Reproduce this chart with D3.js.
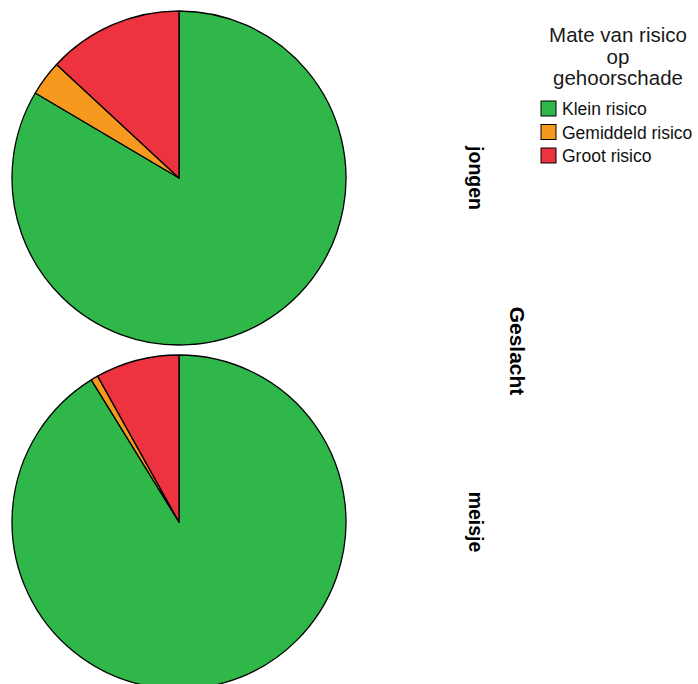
<!DOCTYPE html>
<html>
<head>
<meta charset="utf-8">
<script src="https://cdn.jsdelivr.net/npm/d3@7"></script>
<style>
  body { margin: 0; background: #fff; }
  text { font-family: "Liberation Sans", Arial, sans-serif; }
</style>
</head>
<body>
<svg id="canvas"></svg>
<script>
let svg = d3.select("#canvas");

svg.attr('width', 698)
    .attr('height', 684)

let categories = ['Klein risico', 'Gemiddeld risico', 'Groot risico'];
let colors = ['#2fb74a', '#f7981f', '#ee3340'];
let groups = ['jongen', 'meisje'];
// percentages per group
let jongen = [83.5, 3.4, 13.1];
let meisje = [91.2, 0.7, 8.1];
let series = [jongen, meisje];

let radius = 167;
let centerX = 179;
let centers = [178, 522];

let pie = d3.pie().sort(null).value(d => d);
let arc = d3.arc().innerRadius(0).outerRadius(radius);

series.forEach((values, g) => {
  let pieG = svg.append('g')
    .attr('transform', `translate(${centerX},${centers[g]})`);

  pieG.selectAll('path')
    .data(pie(values))
    .join('path')
    .attr('d', arc)
    .attr('fill', (d, i) => colors[i])
    .attr('stroke', 'black')
    .attr('stroke-width', 1.3)
    .attr('stroke-linejoin', 'round');

  svg.append('text')
    .attr('transform', `translate(469,${centers[g]}) rotate(90)`)
    .attr('text-anchor', 'middle')
    .attr('font-size', 19.5)
    .attr('font-weight', 'bold')
    .text(groups[g]);
});

svg.append('text')
  .attr('transform', 'translate(510,351) rotate(90)')
  .attr('text-anchor', 'middle')
  .attr('font-size', 21)
  .attr('font-weight', 'bold')
  .text('Geslacht');

// legend
let legendTitle = ['Mate van risico', 'op', 'gehoorschade'];
svg.selectAll('text.ltitle')
  .data(legendTitle)
  .join('text')
  .attr('class', 'ltitle')
  .attr('x', 618)
  .attr('y', (d, i) => 42 + i * 21.5)
  .attr('text-anchor', 'middle')
  .attr('font-size', 20.5)
  .attr('fill', '#1a1a1a')
  .text(d => d);

let legend = svg.selectAll('g.item')
  .data(categories)
  .join('g')
  .attr('class', 'item')
  .attr('transform', (d, i) => `translate(541,${101 + i * 23.5})`);

legend.append('rect')
  .attr('width', 15)
  .attr('height', 15)
  .attr('fill', (d, i) => colors[i])
  .attr('stroke', 'black')
  .attr('stroke-width', 1);

legend.append('text')
  .attr('x', 21)
  .attr('y', 14)
  .attr('font-size', 17.5)
  .attr('fill', '#111')
  .text(d => d);
</script>
</body>
</html>
